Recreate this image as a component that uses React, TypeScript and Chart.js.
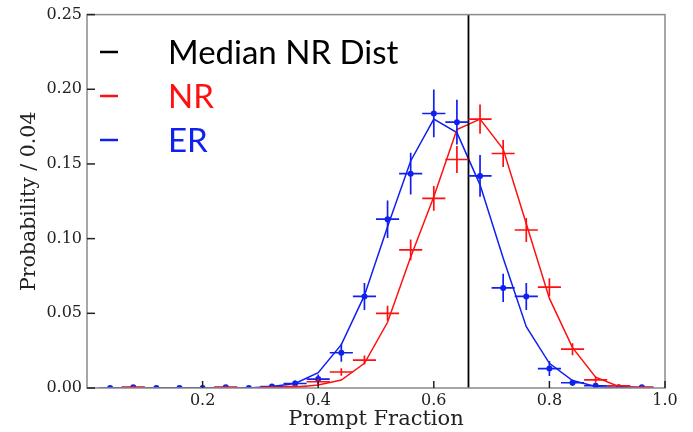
import React, { useEffect, useRef } from "react";
import { Chart, registerables } from "chart.js";

Chart.register(...registerables);

// ---- data ----
const bins = [0.04, 0.08, 0.12, 0.16, 0.2, 0.24, 0.28, 0.32, 0.36, 0.4, 0.44, 0.48, 0.52, 0.56, 0.6, 0.64, 0.68, 0.72, 0.76, 0.8, 0.84, 0.88, 0.92, 0.96];

// ER measured histogram (blue)
const erValues = [0, 0.0005, 0, 0, 0, 0.0005, 0, 0.001, 0.003, 0.006, 0.0236, 0.0613, 0.113, 0.1435, 0.1838, 0.178, 0.142, 0.067, 0.0613, 0.013, 0.0035, 0.0015, 0.0005, 0.0005];
const erErrors = [0.001, 0.001, 0.001, 0.001, 0.001, 0.001, 0.001, 0.0015, 0.002, 0.003, 0.006, 0.009, 0.0125, 0.014, 0.016, 0.015, 0.014, 0.0095, 0.009, 0.005, 0.002, 0.0015, 0.001, 0.001];

// NR measured histogram (red)
const nrValues: (number | null)[] = [null, 0.0005, null, null, null, 0.0005, null, 0.0005, 0.001, 0.0042, 0.0107, 0.0187, 0.05, 0.0925, 0.127, 0.153, 0.18, 0.157, 0.1058, 0.0675, 0.026, 0.0055, 0.0015, 0.0005];
const nrErrors = [0.001, 0.001, 0.001, 0.001, 0.001, 0.001, 0.001, 0.001, 0.001, 0.002, 0.0025, 0.003, 0.005, 0.007, 0.0083, 0.009, 0.0098, 0.0091, 0.008, 0.006, 0.004, 0.002, 0.001, 0.001];

// model curves
const erModel = [0, 0, 0, 0, 0, 0, 0, 0.001, 0.003, 0.0102, 0.029, 0.062, 0.108, 0.152, 0.18, 0.171, 0.136, 0.087, 0.041, 0.0165, 0.005, 0.001, 0, 0];
const nrModel = [0, 0, 0, 0, 0, 0, 0, 0, 0.0005, 0.002, 0.0053, 0.0165, 0.044, 0.0877, 0.128, 0.173, 0.18, 0.16, 0.11, 0.06, 0.027, 0.0073, 0.001, 0];

const binHalfWidth = 0.02;
const medianNR = 0.66;

const legendLabels = ["Median NR Dist", "NR", "ER"];
const xTitle = "Prompt Fraction";
const yTitle = "Probability / 0.04";

const RED = "#ff1010";
const BLUE = "#1020f0";
const legendColors = ["#000000", RED, BLUE];

const errorBarPlugin = {
  id: "errorBars",
  afterDatasetsDraw(chart: any) {
    const { ctx, scales } = chart;
    const xs = scales.x;
    const ys = scales.y;
    const area = chart.chartArea;
    ctx.save();
    ctx.beginPath();
    ctx.rect(area.left, area.top - 2, area.right - area.left, area.bottom - area.top + 2);
    ctx.clip();
    chart.data.datasets.forEach((ds: any) => {
      if (!ds.errorBars) return;
      ctx.strokeStyle = ds.borderColor;
      ctx.lineWidth = 1.7;
      ds.data.forEach((pt: any) => {
        if (!pt || pt.y === null) return;
        const px = xs.getPixelForValue(pt.x);
        const py = ys.getPixelForValue(pt.y);
        const xl = xs.getPixelForValue(pt.x - binHalfWidth);
        const xr = xs.getPixelForValue(pt.x + binHalfWidth);
        const yt = ys.getPixelForValue(pt.y + pt.e);
        const yb = ys.getPixelForValue(Math.max(0, pt.y - pt.e));
        ctx.beginPath();
        ctx.moveTo(xl, py);
        ctx.lineTo(xr, py);
        ctx.moveTo(px, yt);
        ctx.lineTo(px, yb);
        ctx.stroke();
      });
    });
    ctx.restore();
  },
  afterDraw(chart: any) {
    const { ctx, scales } = chart;
    const xs = scales.x;
    const ys = scales.y;
    const a = chart.chartArea;
    ctx.save();
    // frame
    ctx.strokeStyle = "#8a8a8a";
    ctx.lineWidth = 1.5;
    ctx.strokeRect(a.left, a.top, a.right - a.left, a.bottom - a.top);
    // inward ticks
    ctx.strokeStyle = "#222";
    ctx.lineWidth = 1.5;
    ys.ticks.forEach((t: any) => {
      const py = ys.getPixelForValue(t.value);
      ctx.beginPath();
      ctx.moveTo(a.left, py);
      ctx.lineTo(a.left + 8, py);
      ctx.stroke();
    });
    xs.ticks.forEach((t: any) => {
      if (t.value === 0) return;
      const px = xs.getPixelForValue(t.value);
      ctx.beginPath();
      ctx.moveTo(px, a.bottom);
      ctx.lineTo(px, a.bottom - 7);
      ctx.stroke();
    });
    // legend
    const rows = [52, 96, 140];
    ctx.font = "33px Lato";
    ctx.textBaseline = "middle";
    ctx.textAlign = "left";
    legendLabels.forEach((label, i) => {
      ctx.strokeStyle = legendColors[i];
      ctx.fillStyle = legendColors[i];
      ctx.lineWidth = 2.5;
      ctx.beginPath();
      ctx.moveTo(a.left + 13, rows[i]);
      ctx.lineTo(a.left + 31, rows[i]);
      ctx.stroke();
      ctx.fillText(label, a.left + 81, rows[i] + 1);
    });
    ctx.restore();
  },
};

export default function App() {
  const canvasRef = useRef<HTMLCanvasElement>(null);

  useEffect(() => {
    document.body.style.margin = "0";
    const canvas = canvasRef.current;
    if (!canvas) return;

    const serif = "'DejaVu Serif', serif";

    const chart = new Chart(canvas, {
      type: "line",
      data: {
        datasets: [
          {
            label: "Median NR Dist",
            data: [
              { x: medianNR, y: 0 },
              { x: medianNR, y: 0.25 },
            ],
            borderColor: "#000",
            borderWidth: 1.8,
            pointRadius: 0,
          },
          {
            label: "ER points",
            data: bins.map((b, i) => ({ x: b, y: erValues[i], e: erErrors[i] })),
            borderColor: BLUE,
            backgroundColor: BLUE,
            showLine: false,
            pointRadius: 3,
            pointBorderWidth: 0,
            errorBars: true,
          } as any,
          {
            label: "NR points",
            data: bins.map((b, i) => (nrValues[i] === null ? null : { x: b, y: nrValues[i], e: nrErrors[i] })),
            borderColor: RED,
            backgroundColor: RED,
            showLine: false,
            pointRadius: 3,
            pointBorderWidth: 0,
            errorBars: true,
          } as any,
          {
            label: "NR",
            data: bins.map((b, i) => ({ x: b, y: nrModel[i] })),
            borderColor: RED,
            borderWidth: 1.5,
            pointRadius: 0,
            tension: 0,
          },
          {
            label: "ER",
            data: bins.map((b, i) => ({ x: b, y: erModel[i] })),
            borderColor: BLUE,
            borderWidth: 1.5,
            pointRadius: 0,
            tension: 0,
          },
        ],
      },
      options: {
        animation: false,
        responsive: false,
        maintainAspectRatio: false,
        devicePixelRatio: 1,
        layout: { padding: { top: 14, right: 28, left: 0, bottom: 0 } },
        plugins: {
          legend: { display: false },
          tooltip: { enabled: false },
        },
        scales: {
          x: {
            type: "linear",
            min: 0,
            max: 1,
            grid: { display: false, drawTicks: false },
            border: { display: false },
            ticks: {
              stepSize: 0.2,
              padding: 3,
              color: "#222",
              font: { family: serif, size: 16 },
              callback: (v: any) => (Number(v) === 0 ? "" : Number(v).toFixed(1)),
              maxRotation: 0,
            },
            title: {
              display: true,
              text: xTitle,
              color: "#222",
              font: { family: serif, size: 21 },
              padding: { top: 0, bottom: 0 },
            },
            afterFit: (s: any) => {
              s.height = 44;
            },
          },
          y: {
            type: "linear",
            min: 0,
            max: 0.25,
            grid: { display: false, drawTicks: false },
            border: { display: false },
            ticks: {
              stepSize: 0.05,
              padding: 5,
              color: "#222",
              font: { family: serif, size: 16 },
              callback: (v: any) => Number(v).toFixed(2),
            },
            title: {
              display: true,
              text: yTitle,
              color: "#222",
              font: { family: serif, size: 20.5 },
              padding: { top: 17, bottom: 0 },
            },
            afterFit: (s: any) => {
              s.width = 87;
            },
          },
        },
      },
      plugins: [errorBarPlugin],
    });

    return () => chart.destroy();
  }, []);

  return (
    <div style={{ width: 693, height: 432, background: "#fff" }}>
      <canvas ref={canvasRef} width={693} height={432} />
    </div>
  );
}
